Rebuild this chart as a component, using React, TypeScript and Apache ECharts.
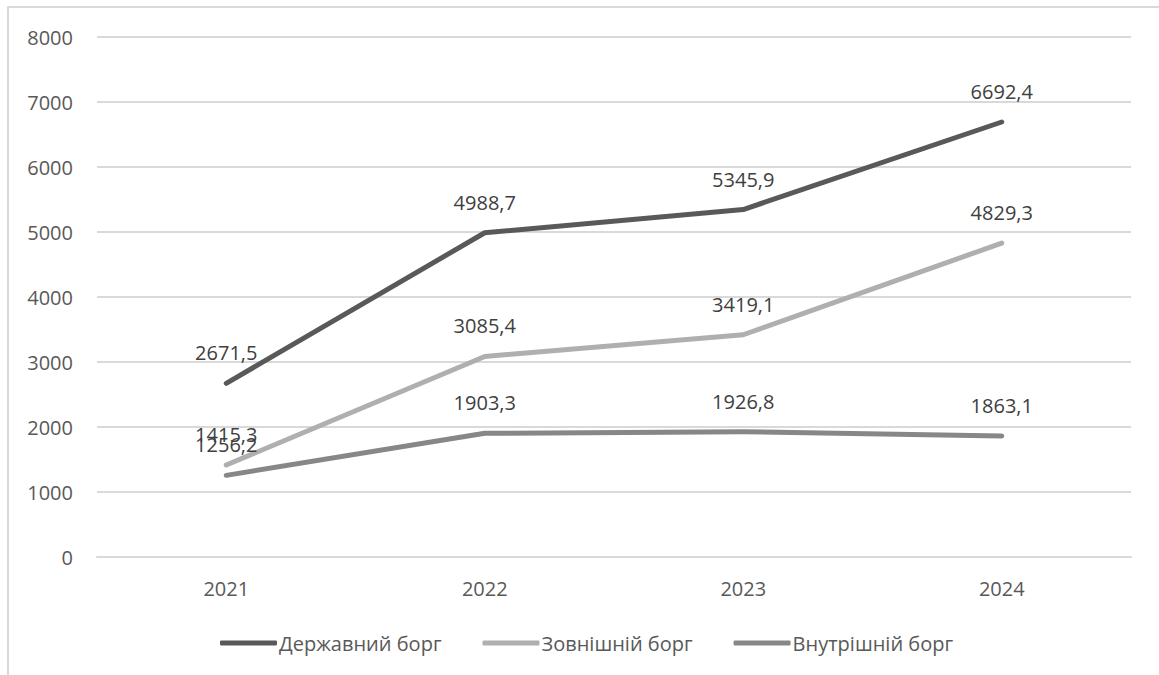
import React, { useEffect, useRef } from "react";
import * as echarts from "echarts";

const years = ["2021", "2022", "2023", "2024"];
const stateDebt = [2671.5, 4988.7, 5345.9, 6692.4];
const externalDebt = [1415.3, 3085.4, 3419.1, 4829.3];
const domesticDebt = [1256.2, 1903.3, 1926.8, 1863.1];

const FONT = "'Open Sans', 'Noto Sans', sans-serif";

const fmt = (v: number) => v.toFixed(1).replace(".", ",");

export default function App() {
  const ref = useRef<HTMLDivElement>(null);

  useEffect(() => {
    if (!ref.current) return;
    const chart = echarts.init(ref.current, undefined, { renderer: "svg" });

    const mkSeries = (name: string, data: number[], color: string) => ({
      name,
      type: "line",
      data,
      symbol: "circle",
      symbolSize: 1,
      showSymbol: true,
      lineStyle: { color, width: 5, cap: "round", join: "round" },
      itemStyle: { color },
      label: {
        show: true,
        position: "top",
        distance: 20,
        color: "#404040",
        fontSize: 20,
        fontFamily: FONT,
        formatter: (p: any) => fmt(p.value),
      },
    });

    chart.setOption({
      animation: false,
      backgroundColor: "#ffffff",
      graphic: [
        {
          type: "rect",
          shape: { x: 8, y: 7, width: 1300, height: 900 },
          style: { fill: "none", stroke: "#d9d9d9", lineWidth: 2 },
          silent: true,
        },
      ],
      grid: { left: 97, right: 28, top: 37, bottom: 118, containLabel: false },
      xAxis: {
        type: "category",
        data: years,
        boundaryGap: true,
        axisLine: { show: true, lineStyle: { color: "#d9d9d9", width: 2 } },
        axisTick: { show: false },
        axisLabel: {
          color: "#595959",
          fontSize: 20,
          fontFamily: FONT,
          margin: 21,
        },
      },
      yAxis: {
        type: "value",
        min: 0,
        max: 8000,
        interval: 1000,
        axisLine: { show: false },
        axisTick: { show: false },
        splitLine: { lineStyle: { color: "#d9d9d9", width: 2 } },
        axisLabel: {
          color: "#595959",
          fontSize: 20,
          fontFamily: FONT,
          margin: 24,
          formatter: (v: number) => String(v),
        },
      },
      legend: {
        left: 215,
        top: 628,
        itemWidth: 57,
        itemHeight: 5,
        itemGap: 41,
        icon: "roundRect",
        textStyle: {
          color: "#595959",
          fontSize: 20,
          fontFamily: FONT,
          padding: [0, 0, 0, -3],
        },
        data: ["Державний борг", "Зовнішній борг", "Внутрішній борг"],
      },
      series: [
        mkSeries("Державний борг", stateDebt, "#595959"),
        mkSeries("Зовнішній борг", externalDebt, "#afafaf"),
        mkSeries("Внутрішній борг", domesticDebt, "#878787"),
      ],
    });

    return () => chart.dispose();
  }, []);

  return (
    <div
      ref={ref}
      style={{ position: "absolute", left: 0, top: 0, width: 1159, height: 675 }}
    />
  );
}
